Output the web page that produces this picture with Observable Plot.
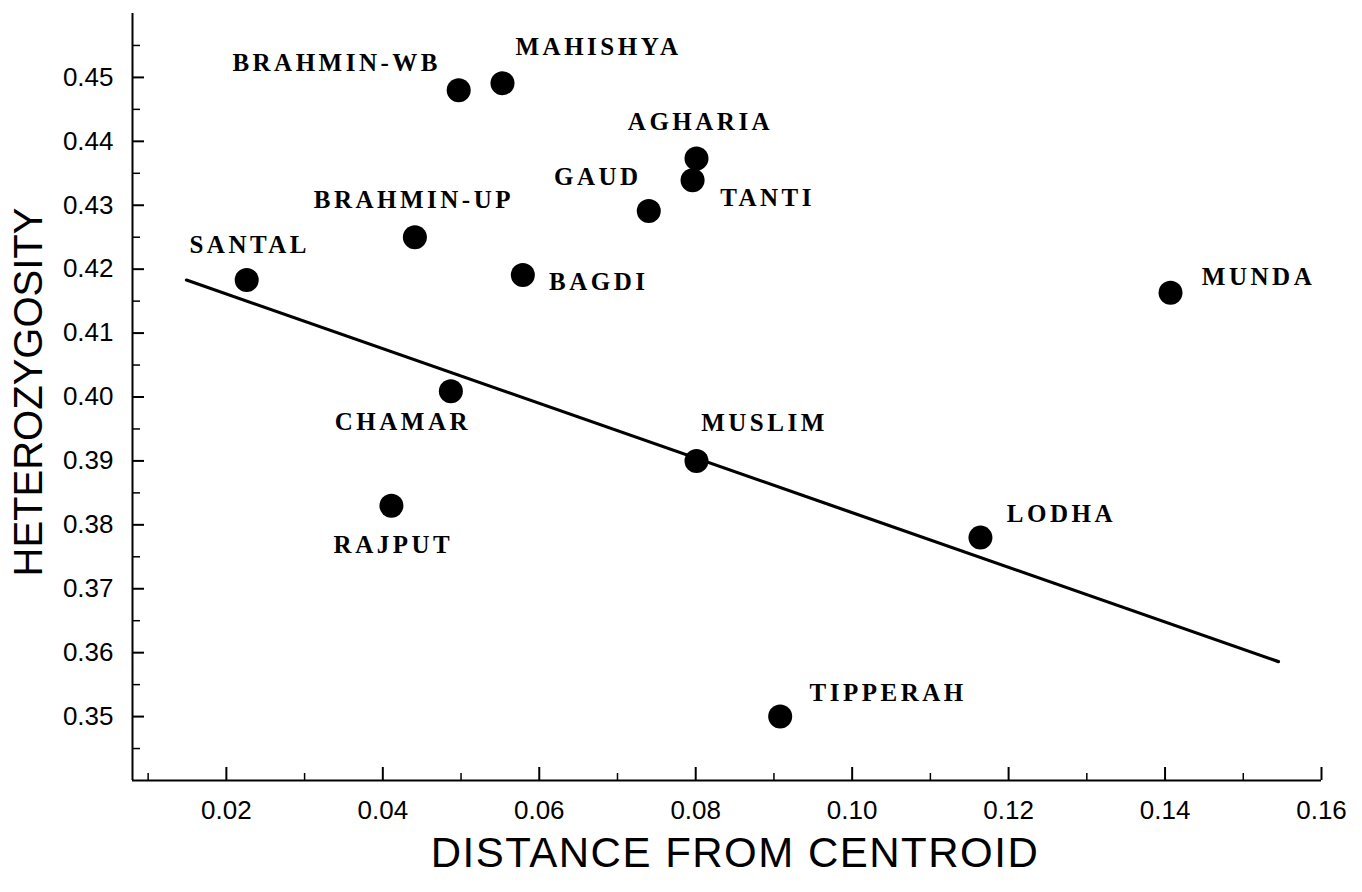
<!DOCTYPE html>
<html>
<head>
<meta charset="utf-8">
<script src="https://cdn.jsdelivr.net/npm/d3@7"></script>
<script src="https://cdn.jsdelivr.net/npm/@observablehq/plot@0.6"></script>
<style>
  html, body { margin: 0; padding: 0; background: #fff; }
  #chart { width: 1362px; height: 892px; }
</style>
</head>
<body>
<div id="chart"></div>
<script>
// ---- data ----
const populations = ["BRAHMIN-WB", "MAHISHYA", "AGHARIA", "TANTI", "GAUD", "BRAHMIN-UP", "SANTAL", "BAGDI", "MUNDA", "CHAMAR", "MUSLIM", "RAJPUT", "LODHA", "TIPPERAH"];
const distance = [0.0497, 0.0553, 0.0801, 0.0796, 0.0740, 0.0441, 0.0226, 0.0579, 0.1407, 0.0487, 0.0801, 0.0411, 0.1164, 0.0908];
const heterozygosity = [0.4480, 0.4491, 0.4373, 0.4339, 0.4291, 0.4250, 0.4183, 0.4191, 0.4163, 0.4009, 0.3900, 0.3830, 0.3780, 0.3500];

// regression line end points
const fitDistance = [0.0149, 0.1545];
const fitHeterozygosity = [0.4183, 0.3586];

// axes
const xTickValues = [0.02, 0.04, 0.06, 0.08, 0.10, 0.12, 0.14, 0.16];
const xMinorTicks = [0.01, 0.03, 0.05, 0.07, 0.09, 0.11, 0.13, 0.15];
const yTickValues = [0.35, 0.36, 0.37, 0.38, 0.39, 0.40, 0.41, 0.42, 0.43, 0.44, 0.45];
const yMinorTicks = [0.345, 0.355, 0.365, 0.375, 0.385, 0.395, 0.405, 0.415, 0.425, 0.435, 0.445, 0.455];
const xDomain = [0.008, 0.16];
const yDomain = [0.34, 0.46];
const xTitle = "DISTANCE FROM CENTROID";
const yTitle = "HETEROZYGOSITY";

// ---- layout (label offsets in px from each dot) ----
const labelOffsetX = [-122, 96, 4, 75, -51, -1, 3, 76, 88, -48, 68, 2, 81, 108];
const labelOffsetY = [-27, -36, -37, 18, -34, -37, -35, 7, -16, 31, -38, 39, -24, -24];

const W = 1362, H = 892;
const mL = 132, mR = 41, mT = 13, mB = 112;
const fw = W - mL - mR, fh = H - mT - mB;

const points = populations.map((name, i) => ({name, d: distance[i], h: heterozygosity[i]}));
const fit = fitDistance.map((d, i) => ({d, h: fitHeterozygosity[i]}));

const sans = "Liberation Sans, Arial, Helvetica, sans-serif";
const serif = "Liberation Serif, Times New Roman, serif";

const labelMarks = points.map((p, i) =>
  Plot.text([p], {
    x: "d", y: "h", text: "name",
    dx: labelOffsetX[i], dy: labelOffsetY[i],
    fontFamily: serif, fontSize: 25, fontWeight: "bold", fill: "black"
  })
);

const chart = Plot.plot({
  width: W, height: H,
  marginLeft: mL, marginRight: mR, marginTop: mT, marginBottom: mB,
  x: {domain: xDomain, axis: null},
  y: {domain: yDomain, axis: null},
  style: {background: "white", color: "black", overflow: "visible"},
  marks: [
    // axis lines
    Plot.ruleX([xDomain[0]], {stroke: "black", strokeWidth: 2}),
    Plot.ruleY([yDomain[0]], {stroke: "black", strokeWidth: 2}),
    // inward ticks
    Plot.tickY(yTickValues, {y: d => d, insetRight: fw - 12, stroke: "black", strokeWidth: 2}),
    Plot.tickY(yMinorTicks, {y: d => d, insetRight: fw - 8, stroke: "black", strokeWidth: 1.5}),
    Plot.tickX(xTickValues, {x: d => d, insetTop: fh - 13, stroke: "black", strokeWidth: 2}),
    Plot.tickX(xMinorTicks, {x: d => d, insetTop: fh - 7, stroke: "black", strokeWidth: 1.5}),
    // tick labels
    Plot.text(yTickValues, {y: d => d, text: d => d.toFixed(2), frameAnchor: "left", textAnchor: "end", dx: -19,
      fontFamily: sans, fontSize: 26, fill: "black"}),
    Plot.text(xTickValues, {x: d => d, text: d => d.toFixed(2), frameAnchor: "bottom", dy: 38,
      fontFamily: sans, fontSize: 26, fill: "black"}),
    // regression line
    Plot.line(fit, {x: "d", y: "h", stroke: "black", strokeWidth: 3.2}),
    // points
    Plot.dot(points, {x: "d", y: "h", r: 12, fill: "black", stroke: "none"}),
    ...labelMarks,
    // axis titles
    Plot.text([xTitle], {text: d => d, frameAnchor: "bottom", dy: 86, dx: 8,
      fontFamily: sans, fontSize: 42, fill: "black"}),
    Plot.text([yTitle], {text: d => d, frameAnchor: "left", textAnchor: "middle", dx: -103, dy: -5, rotate: -90,
      fontFamily: sans, fontSize: 40, fill: "black"})
  ]
});

// letter spacing tweaks
chart.querySelectorAll("g[aria-label='text']").forEach(g => {
  const ff = g.getAttribute("font-family") || "";
  const fs = g.getAttribute("font-size");
  if (ff.indexOf("Serif") >= 0) g.setAttribute("letter-spacing", "3.5px");
  else if (fs === "42") g.setAttribute("letter-spacing", "1.5px");
});

document.getElementById("chart").appendChild(chart);
</script>
</body>
</html>
